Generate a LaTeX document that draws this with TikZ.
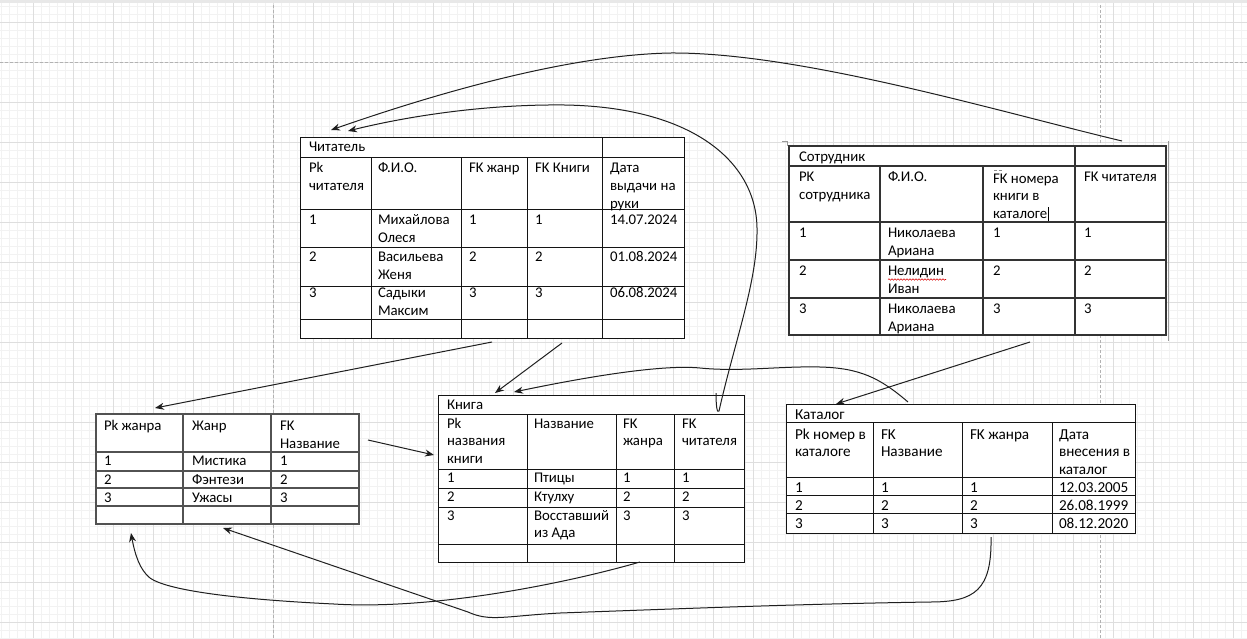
\documentclass[tikz,border=0pt]{standalone}
\usepackage{fontspec}
\setmainfont{Carlito}
\usetikzlibrary{arrows.meta,decorations.pathmorphing}
\newcommand{\lsp}{18}
\newcommand{\cellt}[4]{\foreach \ln [count=\k from 0] in {#4}{\node[txt] (#1-\k) at (#2,#3+\lsp*\k) {\ln};}}
\begin{document}
\begin{tikzpicture}[x=1pt,y=-1pt,
  txt/.style={anchor=base west, inner sep=0pt, outer sep=0pt, font=\fontsize{14.8}{18}\selectfont, text=black},
  tb/.style={draw=black!92, line width=1pt},
  tbg/.style={draw=black!68, line width=1.5pt},
  tbs/.style={draw=black!80, line width=1.2pt},
  minorg/.style={draw=black!5, line width=0.6pt},
  majorg/.style={draw=black!13, line width=0.7pt},
  pageb/.style={draw=black!30, line width=0.7pt, dash pattern=on 3pt off 2pt},
  conn/.style={draw=black!88, line width=1pt, -{Stealth[length=9pt,width=7pt]}}]
\useasboundingbox (0,0) rectangle (1247,638);
\fill[white] (0,0) rectangle (1247,638);
% grid
\foreach \gx in {1,9,...,1247} \draw[minorg] (\gx,0) -- (\gx,638);
\foreach \gy in {6,14,...,638} \draw[minorg] (0,\gy) -- (1247,\gy);
\foreach \gx in {33,73,...,1247} \draw[majorg] (\gx,0) -- (\gx,638);
\foreach \gy in {22,62,...,638} \draw[majorg] (0,\gy) -- (1247,\gy);
\draw[pageb] (273,0) -- (273,638);
\draw[pageb] (1100,0) -- (1100,638);
\draw[pageb] (0,62) -- (1247,62);
\fill[black!9] (0,0) rectangle (1247,3);

% ---------- Читатель ----------
\fill[white] (300,137) rectangle (684,338);
\draw[tb] (300,137) rectangle (684,338);
\foreach \yy in {157,209,247,286,319} \draw[tb] (300,\yy) -- (684,\yy);
\foreach \xx in {371,461,527} \draw[tb] (\xx,157) -- (\xx,338);
\draw[tb] (602,137) -- (602,338);
\renewcommand{\lsp}{18.3}
\cellt{rt}{309}{151}{Читатель}
\cellt{rh1}{309}{172}{Pk,читателя}
\cellt{rh2}{378}{172}{Ф.И.О.}
\cellt{rh3}{469}{172}{FK жанр}
\cellt{rh4}{535}{172}{FK Книги}
\cellt{rh5}{610}{172}{Дата,выдачи на,руки}
\cellt{ra1}{309}{224.5}{1}
\cellt{ra2}{378}{224.5}{Михайлова,Олеся}
\cellt{ra3}{469}{224.5}{1}
\cellt{ra4}{535}{224.5}{1}
\cellt{ra5}{610}{224.5}{14.07.2024}
\cellt{rb1}{309}{261.5}{2}
\cellt{rb2}{378}{261.5}{Васильева,Женя}
\cellt{rb3}{469}{261.5}{2}
\cellt{rb4}{535}{261.5}{2}
\cellt{rb5}{610}{261.5}{01.08.2024}
\cellt{rc1}{309}{297}{3}
\cellt{rc2}{378}{297}{Садыки,Максим}
\cellt{rc3}{469}{297}{3}
\cellt{rc4}{535}{297}{3}
\cellt{rc5}{610}{297}{06.08.2024}

% ---------- Сотрудник ----------
\fill[white] (789,146) rectangle (1166,335);
\draw[tbs] (789,146) rectangle (1166,335);
\foreach \yy in {166,222,260,298} \draw[tbs] (789,\yy) -- (1166,\yy);
\foreach \xx in {880,983} \draw[tbs] (\xx,166) -- (\xx,335);
\draw[tbs] (1075,146) -- (1075,335);
\draw[black!40, line width=0.8pt] (1168,141) -- (1168,341);
\draw[black!40, line width=0.8pt] (782,141) -- (787,141) -- (787,146);
\renewcommand{\lsp}{18.5}
\cellt{st}{799}{161}{Сотрудник}
\cellt{sh1}{799}{181}{PK,сотрудника}
\cellt{sh2}{888}{181}{Ф.И.О.}
\cellt{sh4}{1084}{181}{FK читателя}
\cellt{sa1}{799}{237}{1}
\cellt{sa2}{888}{237}{Николаева,Ариана}
\cellt{sa3}{993}{237}{1}
\cellt{sa4}{1084}{237}{1}
\cellt{sb1}{799}{275}{2}
\cellt{sb2}{888}{275}{Нелидин,Иван}
\cellt{sb3}{993}{275}{2}
\cellt{sb4}{1084}{275}{2}
\cellt{sc1}{799}{313}{3}
\cellt{sc2}{888}{313}{Николаева,Ариана}
\cellt{sc3}{993}{313}{3}
\cellt{sc4}{1084}{313}{3}
\renewcommand{\lsp}{17.5}
\cellt{sh3}{993}{183}{FK номера,книги в,каталоге}
\draw[black!45, line width=0.6pt, dash pattern=on 3pt off 1.5pt] (994,170.5) -- (1003,170.5);
\draw[black, line width=0.8pt] (1048,207) -- (1048,221);
\draw[red!85!black, line width=0.6pt, decorate, decoration={snake, amplitude=0.7pt, segment length=3pt}] (888,279.5) -- (946,279.5);

% ---------- Жанр ----------
\fill[white] (96,414) rectangle (359,524);
\draw[tbg] (96,414) rectangle (359,524);
\foreach \yy in {452,471,488,506} \draw[tbg] (96,\yy) -- (359,\yy);
\foreach \xx in {183,271} \draw[tbg] (\xx,414) -- (\xx,524);
\renewcommand{\lsp}{18}
\cellt{gh1}{104}{430}{Pk жанра}
\cellt{gh2}{192}{430}{Жанр}
\cellt{gh3}{280}{430}{FK,Название}
\cellt{ga1}{104}{465}{1}
\cellt{ga2}{192}{465}{Мистика}
\cellt{ga3}{280}{465}{1}
\cellt{gb1}{104}{484}{2}
\cellt{gb2}{192}{484}{Фэнтези}
\cellt{gb3}{280}{484}{2}
\cellt{gc1}{104}{502}{3}
\cellt{gc2}{192}{502}{Ужасы}
\cellt{gc3}{280}{502}{3}

% ---------- Книга ----------
\fill[white] (438,395) rectangle (744,562);
\draw[tb] (438,395) rectangle (744,562);
\foreach \yy in {414,469,488,507,544} \draw[tb] (438,\yy) -- (744,\yy);
\foreach \xx in {527,616,674} \draw[tb] (\xx,414) -- (\xx,562);
\renewcommand{\lsp}{17.8}
\cellt{bt}{447}{409}{Книга}
\cellt{bh1}{447}{428}{Pk,названия,книги}
\cellt{bh2}{534}{428}{Название}
\cellt{bh3}{623}{428}{FK,жанра}
\cellt{bh4}{682}{428}{FK,читателя}
\cellt{ba1}{447}{482}{1}
\cellt{ba2}{534}{482}{Птицы}
\cellt{ba3}{623}{482}{1}
\cellt{ba4}{682}{482}{1}
\cellt{bb1}{447}{501}{2}
\cellt{bb2}{534}{501}{Ктулху}
\cellt{bb3}{623}{501}{2}
\cellt{bb4}{682}{501}{2}
\cellt{bc1}{447}{520}{3}
\cellt{bc2}{534}{520}{Восставший,из Ада}
\cellt{bc3}{623}{520}{3}
\cellt{bc4}{682}{520}{3}

% ---------- Каталог ----------
\fill[white] (786,404) rectangle (1135,533);
\draw[tb] (786,404) rectangle (1135,533);
\foreach \yy in {422,477,495,513} \draw[tb] (786,\yy) -- (1135,\yy);
\foreach \xx in {873,962,1052} \draw[tb] (\xx,422) -- (\xx,533);
\renewcommand{\lsp}{17.7}
\begin{scope}[txt/.append style={font=\fontsize{15.2}{18}\selectfont}]
\cellt{kt}{795}{419}{Каталог}
\cellt{kh1}{795}{439}{Pk номер в,каталоге}
\cellt{kh2}{881}{439}{FK,Название}
\cellt{kh3}{970}{439}{FK жанра}
\cellt{kh4}{1059}{439}{Дата,внесения в,каталог}
\cellt{ka1}{795}{492}{1}
\cellt{ka2}{881}{492}{1}
\cellt{ka3}{970}{492}{1}
\cellt{ka4}{1059}{492}{12.03.2005}
\cellt{kb1}{795}{510}{2}
\cellt{kb2}{881}{510}{2}
\cellt{kb3}{970}{510}{2}
\cellt{kb4}{1059}{510}{26.08.1999}
\cellt{kc1}{795}{528}{3}
\cellt{kc2}{881}{528}{3}
\cellt{kc3}{970}{528}{3}
\cellt{kc4}{1059}{528}{08.12.2020}
\end{scope}

% ---------- connectors ----------
\coordinate (c1a) at (1122,141); \coordinate (c1b) at (331,130);
\coordinate (c2a) at (716,393); \coordinate (c2b) at (348,131);
\coordinate (c3a) at (492,342); \coordinate (c3b) at (155,408);
\coordinate (c4a) at (562,343); \coordinate (c4b) at (495,393);
\coordinate (c5a) at (908,402); \coordinate (c5b) at (514,392);
\coordinate (c6a) at (1030,342); \coordinate (c6b) at (836,404);
\coordinate (c7a) at (368,440); \coordinate (c7b) at (434,455);
\coordinate (c8a) at (640,562); \coordinate (c8b) at (131,533);
\coordinate (c9a) at (991,537); \coordinate (c9b) at (223,528);

\draw[conn] (c1a) .. controls (1000,112) and (800,52) .. (670,53)
  .. controls (570,55) and (440,92) .. (c1b);
\draw[conn] (c2a) .. controls (716,405) and (717,414) .. (719,411)
  .. controls (735,340) and (758,280) .. (757,228)
  .. controls (756,160) and (690,107) .. (565,105)
  .. controls (480,104) and (400,118) .. (c2b);
\draw[conn] (c3a) -- (c3b);
\draw[conn] (c4a) -- (c4b);
\draw[conn] (c5a) .. controls (880,378) and (860,368) .. (820,367)
  .. controls (780,366) and (740,372) .. (700,368)
  .. controls (670,365) and (610,372) .. (c5b);
\draw[conn] (c6a) -- (c6b);
\draw[conn] (c7a) -- (c7b);
\draw[conn] (c8a) .. controls (560,585) and (430,610) .. (334,604)
  .. controls (250,600) and (170,592) .. (150,578)
  .. controls (140,570) and (135,555) .. (c8b);
\draw[conn] (c9a) .. controls (992,590) and (975,602) .. (930,602)
  .. controls (800,604) and (700,608) .. (560,613)
  .. controls (505,616) and (490,622) .. (468,612) -- (c9b);
\end{tikzpicture}
\end{document}
